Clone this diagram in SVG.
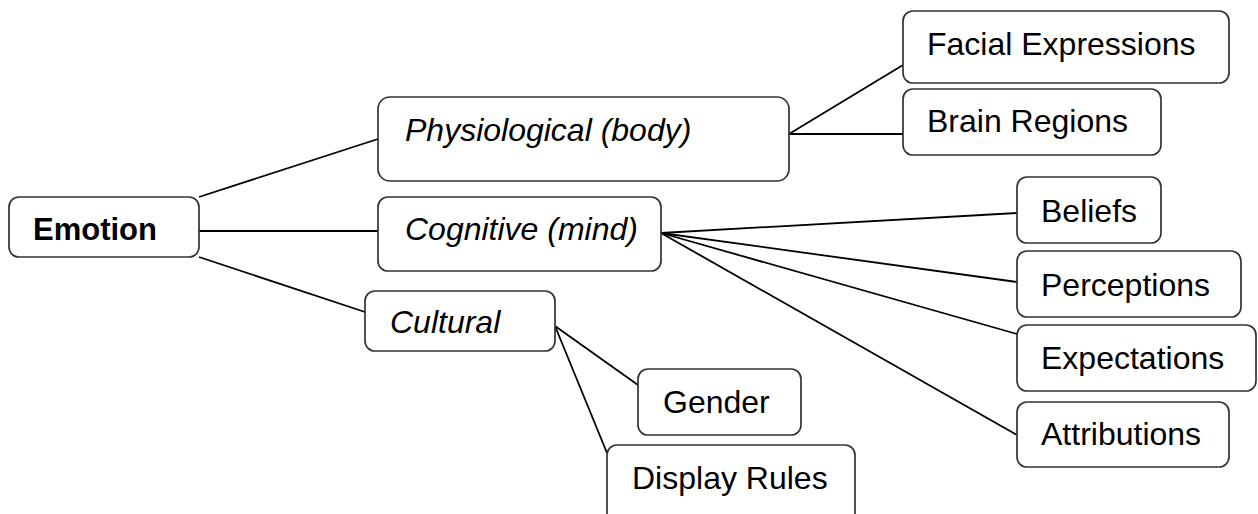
<svg xmlns="http://www.w3.org/2000/svg" width="1258" height="514" viewBox="0 0 1258 514">
  <style>
    .box { fill: #ffffff; stroke: #333333; stroke-width: 1.7; }
    .lbl { font-family: "Liberation Sans", Arial, sans-serif; font-size: 32px; fill: #000000; }
    .it { font-style: italic; }
    .bd { font-weight: bold; font-size: 31px; }
    .links line { stroke: #000000; stroke-width: 1.8; }
  </style>
  <rect width="1258" height="514" fill="#ffffff"/>

  <!-- connectors -->
  <g class="links" id="connectors">
    <line x1="199" y1="197" x2="378" y2="139"/>
    <line x1="199" y1="231" x2="378" y2="231"/>
    <line x1="199" y1="257" x2="365" y2="312"/>
    <line x1="789" y1="134" x2="903" y2="65"/>
    <line x1="789" y1="134" x2="903" y2="134"/>
    <line x1="661" y1="233" x2="1017" y2="213"/>
    <line x1="661" y1="233" x2="1017" y2="282"/>
    <line x1="661" y1="233" x2="1017" y2="334"/>
    <line x1="661" y1="233" x2="1017" y2="435"/>
    <line x1="555" y1="326" x2="638" y2="385"/>
    <line x1="555" y1="326" x2="607" y2="453"/>
  </g>

  <g id="emotion">
    <rect class="box" x="9" y="197" width="190" height="60" rx="10"/>
    <text class="lbl bd" x="33" y="240">Emotion</text>
  </g>
  <g id="physiological">
    <rect class="box" x="378" y="97" width="411" height="84" rx="12"/>
    <text class="lbl it" x="405" y="141">Physiological (body)</text>
  </g>
  <g id="cognitive">
    <rect class="box" x="378" y="197" width="283" height="74" rx="10"/>
    <text class="lbl it" x="405" y="240">Cognitive (mind)</text>
  </g>
  <g id="cultural">
    <rect class="box" x="365" y="291" width="190" height="60" rx="10"/>
    <text class="lbl it" x="390" y="333">Cultural</text>
  </g>
  <g id="facial-expressions">
    <rect class="box" x="903" y="11" width="326" height="72" rx="10"/>
    <text class="lbl" x="927" y="55">Facial Expressions</text>
  </g>
  <g id="brain-regions">
    <rect class="box" x="903" y="89" width="258" height="66" rx="10"/>
    <text class="lbl" x="927" y="132">Brain Regions</text>
  </g>
  <g id="beliefs">
    <rect class="box" x="1017" y="177" width="144" height="66" rx="10"/>
    <text class="lbl" x="1041" y="222">Beliefs</text>
  </g>
  <g id="perceptions">
    <rect class="box" x="1017" y="251" width="224" height="66" rx="10"/>
    <text class="lbl" x="1041" y="296">Perceptions</text>
  </g>
  <g id="expectations">
    <rect class="box" x="1017" y="325" width="239" height="66" rx="10"/>
    <text class="lbl" x="1041" y="369">Expectations</text>
  </g>
  <g id="attributions">
    <rect class="box" x="1017" y="402" width="212" height="65" rx="10"/>
    <text class="lbl" x="1041" y="445">Attributions</text>
  </g>
  <g id="gender">
    <rect class="box" x="638" y="369" width="163" height="66" rx="10"/>
    <text class="lbl" x="663" y="413">Gender</text>
  </g>
  <g id="display-rules">
    <rect class="box" x="607" y="445" width="248" height="80" rx="10"/>
    <text class="lbl" x="632" y="489">Display Rules</text>
  </g>
</svg>
